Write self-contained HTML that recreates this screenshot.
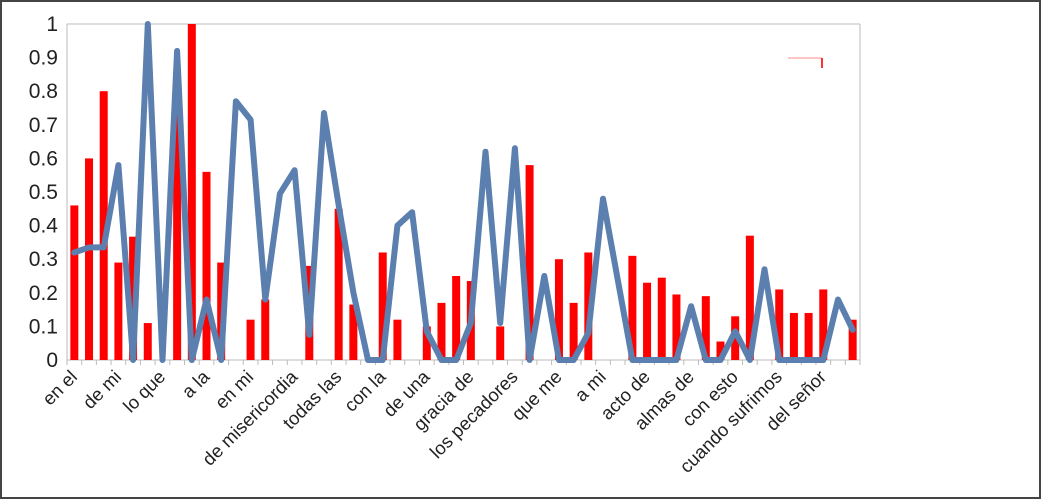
<!DOCTYPE html>
<html><head><meta charset="utf-8"><style>
html,body{margin:0;padding:0;background:#fff}
svg{display:block}
text{font-family:"Liberation Sans",sans-serif;fill:#222}
</style></head><body>
<svg id="s" width="1041" height="500" xmlns="http://www.w3.org/2000/svg">
<rect x="1" y="1" width="1039" height="497" fill="#fff" stroke="#444" stroke-width="2"/>
<g id="g"></g>
</svg>
<script>
var bars=[0.46,0.60,0.80,0.29,0.367,0.11,0,0.82,1.0,0.56,0.29,0,0.12,0.18,0,0,0.28,0,0.45,0.165,0,0.32,0.12,0,0.10,0.17,0.25,0.235,0,0.10,0,0.58,0,0.30,0.17,0.32,0,0,0.31,0.23,0.245,0.195,0,0.19,0.055,0.13,0.37,0,0.21,0.14,0.14,0.21,0,0.12];
var line=[0.32,0.335,0.335,0.58,0,1.0,0,0.92,0,0.18,0,0.77,0.715,0.18,0.495,0.565,0.075,0.735,0.46,0.2,0,0,0.40,0.44,0.085,0,0,0.11,0.62,0.11,0.63,0,0.25,0,0,0.08,0.48,0.24,0,0,0,0,0.16,0,0,0.085,0,0.27,0,0,0,0,0.18,0.09];
var labels=["en el","de mi","lo que","a la","en mi","de misericordia","todas las","con la","de una","gracia de","los pecadores","que me","a mi","acto de","almas de","con esto","cuando sufrimos","del señor"];
var L=67,R=860,T=24,B=360,n=54,w=(R-L)/n;
function Y(v){return B-v*(B-T);}
var h='';
h+='<line x1="'+L+'" y1="'+T+'" x2="'+R+'" y2="'+T+'" stroke="#bbb"/>';
h+='<line x1="'+R+'" y1="'+T+'" x2="'+R+'" y2="'+B+'" stroke="#bbb"/>';
h+='<line x1="'+L+'" y1="'+T+'" x2="'+L+'" y2="'+B+'" stroke="#bbb"/>';
h+='<line x1="'+L+'" y1="'+B+'" x2="'+R+'" y2="'+B+'" stroke="#bbb"/>';
for(var i=0;i<=10;i++){var y=Y(i/10);h+='<text x="58" y="'+(y+7)+'" font-size="21" text-anchor="end">'+(i==0?'0':i==10?'1':(i/10).toFixed(1))+'</text>';}
for(var i=0;i<=n;i++){var x=L+i*w;h+='<line x1="'+x+'" y1="'+B+'" x2="'+x+'" y2="'+(B+5)+'" stroke="#bbb"/>';}
for(var i=0;i<n;i++){if(bars[i]>0){var cx=L+(i+0.5)*w;h+='<rect x="'+(cx-4)+'" y="'+Y(bars[i])+'" width="8" height="'+(B-Y(bars[i]))+'" fill="#f00"/>';}}
var p=[];for(var i=0;i<n;i++){p.push((L+(i+0.5)*w).toFixed(1)+','+Y(line[i]).toFixed(1));}
h+='<polyline points="'+p.join(' ')+'" fill="none" stroke="#5b7fae" stroke-width="6" stroke-linejoin="round" stroke-linecap="round"/>';
for(var k=0;k<labels.length;k++){var cx=L+(3*k+0.5)*w+4;h+='<text x="'+cx+'" y="378" font-size="18.5" text-anchor="end" transform="rotate(-45 '+cx+' 378)">'+labels[k]+'</text>';}
h+='<line x1="788" y1="58" x2="822" y2="58" stroke="#f88" stroke-width="1"/><line x1="822" y1="58" x2="822" y2="68" stroke="#f33" stroke-width="2"/>';
document.getElementById('g').innerHTML=h;
</script>
</body></html>
